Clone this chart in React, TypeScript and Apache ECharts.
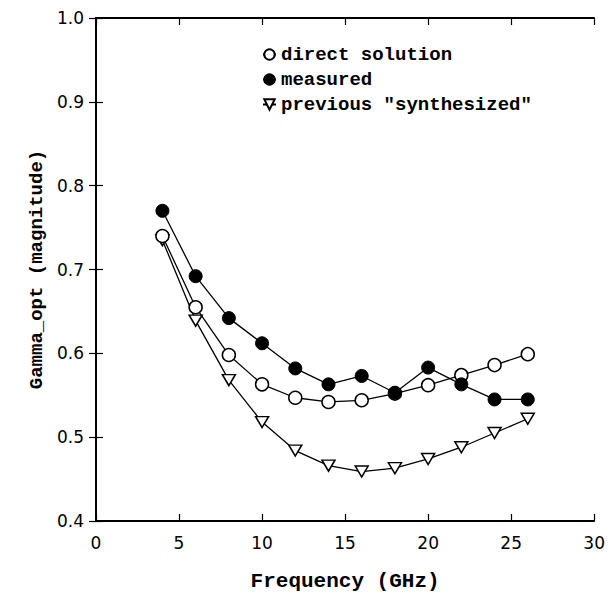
import React, { useEffect, useRef } from "react";
import * as echarts from "echarts";

const frequencies = [4, 6, 8, 10, 12, 14, 16, 18, 20, 22, 24, 26];
const directSolution = [0.74, 0.655, 0.598, 0.563, 0.547, 0.542, 0.544, 0.552, 0.562, 0.574, 0.586, 0.599];
const measured = [0.77, 0.692, 0.642, 0.612, 0.582, 0.563, 0.573, 0.553, 0.583, 0.563, 0.545, 0.545];
const synthesized = [0.735, 0.639, 0.568, 0.518, 0.484, 0.466, 0.459, 0.463, 0.474, 0.488, 0.505, 0.522];

const xTicks = [0, 5, 10, 15, 20, 25, 30];
const yTicks = [0.4, 0.5, 0.6, 0.7, 0.8, 0.9, 1.0];

const seriesNames = ["direct solution", "measured", 'previous "synthesized"'];

const TRI = "path://M0,0 L12,0 L6,10 Z";

export default function App() {
  const ref = useRef<HTMLDivElement>(null);
  useEffect(() => {
    if (!ref.current) return;
    const chart = echarts.init(ref.current, null, { renderer: "svg" });
    const pair = (ys: number[]) => frequencies.map((f, i) => [f, ys[i]]);
    const monoFont = "Liberation Mono";
    const sansFont = "DejaVu Sans";
    const axisLine = { show: true, lineStyle: { color: "#000", width: 1.8 } };
    const tick = { show: true, inside: true, length: 7, lineStyle: { color: "#000", width: 1.2 } };
    const common = {
      type: "value" as const,
      splitLine: { show: false },
      axisLine,
      axisTick: tick,
    };
    chart.setOption({
      animation: false,
      backgroundColor: "#fff",
      grid: { left: 88, right: 8, top: 10, bottom: 72, containLabel: false },
      legend: {
        orient: "vertical",
        left: 249,
        top: 32,
        itemGap: 6,
        itemWidth: 13,
        itemHeight: 13,
        data: seriesNames,
        textStyle: { fontFamily: monoFont, fontWeight: "bold", fontSize: 19, color: "#000" },
      },
      xAxis: [
        {
          ...common,
          min: xTicks[0],
          max: xTicks[xTicks.length - 1],
          interval: 5,
          position: "bottom",
          axisLabel: { fontFamily: sansFont, fontSize: 17, color: "#000", margin: 13 },
          name: "Frequency (GHz)",
          nameLocation: "middle",
          nameGap: 50,
          nameTextStyle: { fontFamily: monoFont, fontWeight: "bold", fontSize: 21, color: "#000" },
        },
        {
          ...common,
          min: xTicks[0],
          max: xTicks[xTicks.length - 1],
          interval: 5,
          position: "top",
          axisLabel: { show: false },
        },
      ],
      yAxis: [
        {
          ...common,
          min: yTicks[0],
          max: yTicks[yTicks.length - 1],
          interval: 0.1,
          position: "left",
          axisLabel: {
            fontFamily: sansFont,
            fontSize: 17,
            color: "#000",
            margin: 12,
            formatter: (v: number) => v.toFixed(1),
          },
          name: "Gamma_opt (magnitude)",
          nameLocation: "middle",
          nameGap: 40,
          nameTextStyle: { fontFamily: monoFont, fontWeight: "bold", fontSize: 19, color: "#000" },
        },
        {
          ...common,
          min: yTicks[0],
          max: yTicks[yTicks.length - 1],
          interval: 0.1,
          position: "right",
          axisLabel: { show: false },
        },
      ],
      series: [
        {
          name: seriesNames[0],
          type: "line",
          data: pair(directSolution),
          symbol: "circle",
          symbolSize: 13,
          lineStyle: { color: "#000", width: 1.3 },
          itemStyle: { color: "#fff", borderColor: "#000", borderWidth: 1.5 },
          z: 3,
        },
        {
          name: seriesNames[1],
          type: "line",
          data: pair(measured),
          symbol: "circle",
          symbolSize: 13,
          lineStyle: { color: "#000", width: 1.3 },
          itemStyle: { color: "#000", borderColor: "#000", borderWidth: 1 },
          z: 4,
        },
        {
          name: seriesNames[2],
          type: "line",
          data: pair(synthesized),
          symbol: TRI,
          symbolSize: [13, 11],
          lineStyle: { color: "#000", width: 1.3 },
          itemStyle: { color: "#fff", borderColor: "#000", borderWidth: 1.5 },
          z: 2,
        },
      ],
    });
    return () => chart.dispose();
  }, []);
  return <div ref={ref} style={{ width: 600, height: 589 }} />;
}
